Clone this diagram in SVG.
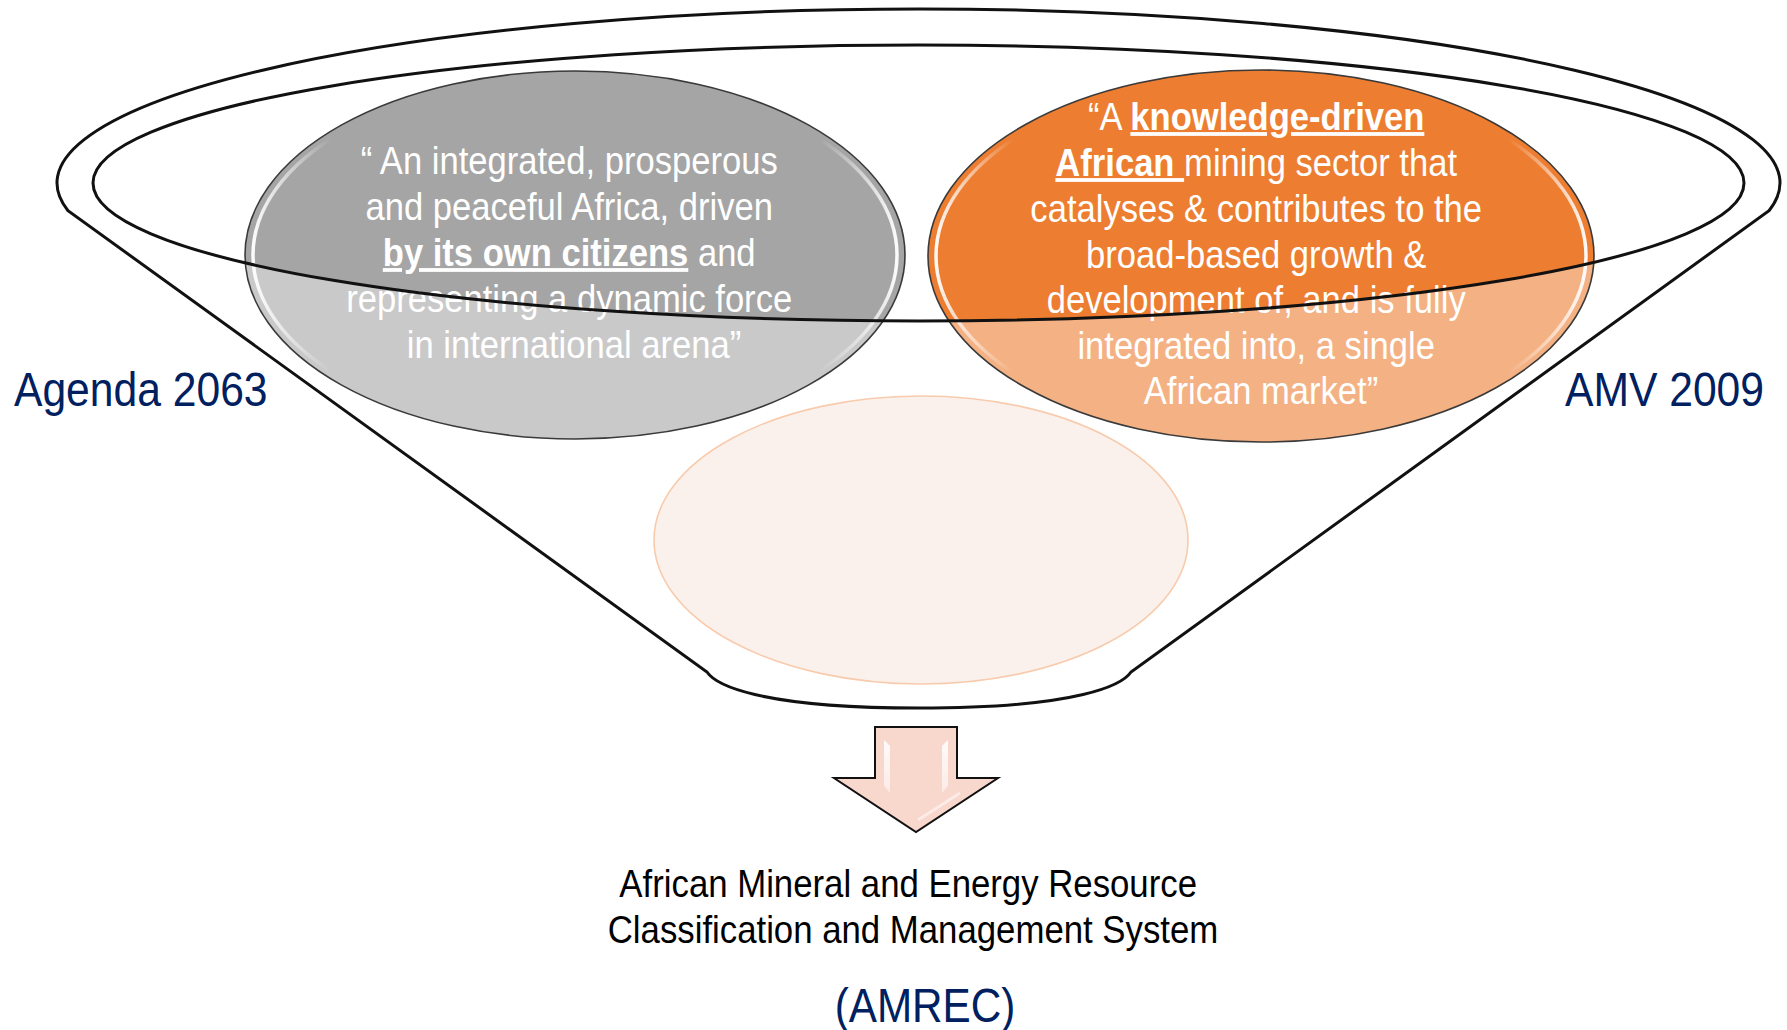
<svg xmlns="http://www.w3.org/2000/svg" width="1787" height="1030" viewBox="0 0 1787 1030">
  <defs>
    <style>
      text { font-family: "Liberation Sans", Arial, sans-serif; }
      .q { font-size: 38px; fill: #FFFFFF; }
      .b { font-weight: bold; text-decoration: underline; }
      .navy { font-size: 49px; fill: #002060; }
      .blk { font-size: 38px; fill: #000000; }
      .rim { fill: none; stroke: #111111; stroke-width: 3; }
      .edge { fill: none; stroke: #3A3A3A; stroke-width: 1.6; }
      .gloss { fill: none; stroke: url(#glossGrad); stroke-width: 3.5; }
    </style>
    <clipPath id="rimClip">
      <ellipse cx="918.5" cy="183" rx="825.5" ry="138"/>
    </clipPath>
    <linearGradient id="glossGrad" x1="0" y1="0" x2="1" y2="0">
      <stop offset="0" stop-color="#FFFFFF" stop-opacity="0.95"/>
      <stop offset="0.12" stop-color="#FFFFFF" stop-opacity="0"/>
      <stop offset="0.88" stop-color="#FFFFFF" stop-opacity="0"/>
      <stop offset="1" stop-color="#FFFFFF" stop-opacity="0.95"/>
    </linearGradient>
    <linearGradient id="arrowGloss" x1="0" y1="0" x2="0" y2="1">
      <stop offset="0" stop-color="#FFFFFF" stop-opacity="0.9"/>
      <stop offset="1" stop-color="#FFFFFF" stop-opacity="0.5"/>
    </linearGradient>
  </defs>

  <rect x="0" y="0" width="1787" height="1030" fill="#FFFFFF"/>

  <!-- Agenda 2063 vision ellipse -->
  <g id="agenda-vision">
    <ellipse cx="575" cy="255" rx="330" ry="184" fill="#C9C9C9"/>
    <ellipse cx="575" cy="255" rx="330" ry="184" fill="#A5A5A5" clip-path="url(#rimClip)"/>
    <ellipse cx="575" cy="255" rx="322" ry="178" class="gloss"/>
    <ellipse cx="575" cy="255" rx="330" ry="184" class="edge"/>
    <text class="q" text-anchor="middle" transform="translate(574,0) scale(0.91,1)">
      <tspan x="0" y="174">“ An integrated, prosperous</tspan>
      <tspan x="0" y="220">and peaceful Africa, driven</tspan>
      <tspan x="0" y="266"><tspan class="b">by its own citizens</tspan> and</tspan>
      <tspan x="0" y="312">representing a dynamic force</tspan>
      <tspan x="0" y="358">in international arena”</tspan>
    </text>
  </g>

  <!-- AMV 2009 vision ellipse -->
  <g id="amv-vision">
    <ellipse cx="1261" cy="256" rx="333" ry="186" fill="#F4B183"/>
    <ellipse cx="1261" cy="256" rx="333" ry="186" fill="#ED7D31" clip-path="url(#rimClip)"/>
    <ellipse cx="1261" cy="256" rx="325" ry="180" class="gloss"/>
    <ellipse cx="1261" cy="256" rx="333" ry="186" class="edge"/>
    <text class="q" text-anchor="middle" transform="translate(1261,0) scale(0.91,1)">
      <tspan x="0" y="130">“A <tspan class="b">knowledge-driven</tspan></tspan>
      <tspan x="0" y="176"><tspan class="b">African </tspan>mining sector that</tspan>
      <tspan x="0" y="222">catalyses &amp; contributes to the</tspan>
      <tspan x="0" y="268">broad-based growth &amp;</tspan>
      <tspan x="0" y="313">development of, and is fully</tspan>
      <tspan x="0" y="359">integrated into, a single</tspan>
      <tspan x="0" y="404">African market”</tspan>
    </text>
  </g>

  <!-- AMREC ellipse -->
  <g id="amrec-ellipse">
    <ellipse cx="921" cy="540" rx="267" ry="144" fill="#FBF1EC" stroke="#F8CBAD" stroke-width="1.6"/>
  </g>

  <!-- Funnel -->
  <g id="funnel">
    <path class="rim" d="M 68,210.7 A 861.5 174 0 1 1 1769,210.7 L 1131,672 C 1123,684 1082,708 919,708 C 756,708 715,684 707,672 Z"/>
    <ellipse class="rim" cx="918.5" cy="183" rx="825.5" ry="138"/>
  </g>

  <!-- Labels -->
  <g id="agenda-label">
    <text class="navy" text-anchor="start" transform="translate(14,0) scale(0.87,1)" x="0" y="406">Agenda 2063</text>
  </g>
  <g id="amv-label">
    <text class="navy" text-anchor="end" transform="translate(1764,0) scale(0.87,1)" x="0" y="406">AMV 2009</text>
  </g>

  <!-- Connectors -->
  <g id="connectors">
    <path d="M 875,727 L 957,727 L 957,778 L 998,778 L 916,832 L 834,778 L 875,778 Z" fill="#F8D7CD" stroke="#111111" stroke-width="2" stroke-linejoin="miter"/>
    <path d="M 884,740 L 890,746 L 890,793 L 884,786 Z" fill="url(#arrowGloss)"/>
    <path d="M 948,740 L 942,746 L 942,793 L 948,786 Z" fill="url(#arrowGloss)"/>
    <path d="M 918,820 L 960,793" stroke="#FFFFFF" stroke-opacity="0.5" stroke-width="3" fill="none"/>
  </g>

  <!-- Result -->
  <g id="amrec-result">
    <text class="blk" text-anchor="middle" transform="translate(913,0) scale(0.915,1)">
      <tspan x="0" y="897">African Mineral and Energy Resource</tspan>
      <tspan x="0" y="943">Classification and Management System</tspan>
    </text>
    <text class="navy" text-anchor="middle" transform="translate(925,0) scale(0.88,1)" x="0" y="1022" style="font-size:48px">(AMREC)</text>
  </g>
</svg>
